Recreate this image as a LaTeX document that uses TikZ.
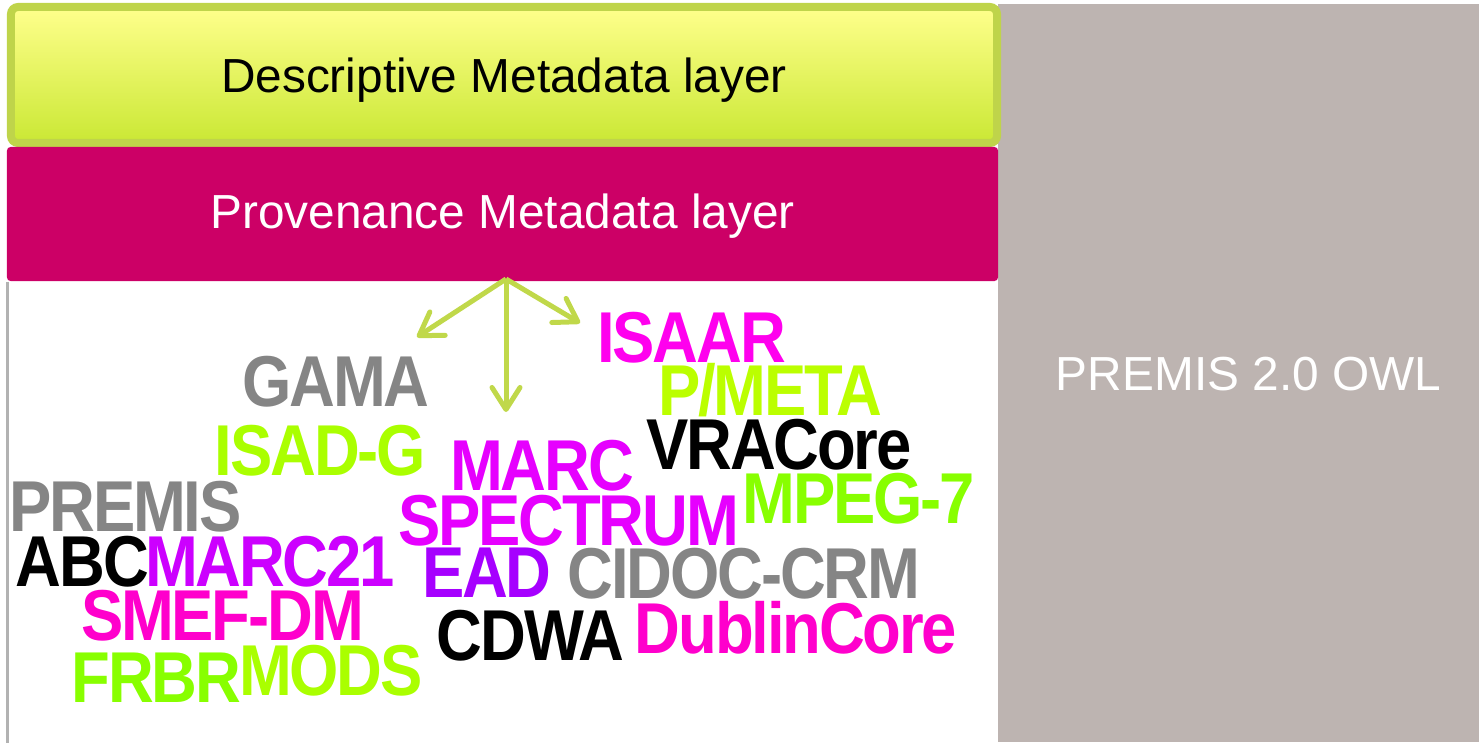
\documentclass[tikz,border=0pt]{standalone}
\usepackage{fontspec}
\setmainfont{Liberation Sans}
\newfontfamily\cloudfont[LetterSpace=-3,FakeStretch=0.88]{Liberation Sans}
\usepackage{xcolor}
\usepackage{tikz}
\usetikzlibrary{arrows.meta}

\definecolor{descborder}{HTML}{BFD44A}
\definecolor{desctop}{HTML}{FFFF8C}
\definecolor{descbot}{HTML}{CAE834}
\definecolor{provfill}{HTML}{CC0066}
\definecolor{owlfill}{HTML}{BDB4B1}
\definecolor{arrowgreen}{HTML}{C0D84A}
\definecolor{wgrey}{HTML}{858585}
\definecolor{wlime}{HTML}{AAFF00}
\definecolor{wgreen}{HTML}{88FF00}
\definecolor{wyellow}{HTML}{BBFF00}
\definecolor{wpink}{HTML}{FF00CC}
\definecolor{wmagenta}{HTML}{FF00EE}
\definecolor{wviolet}{HTML}{E600FF}
\definecolor{wpurple}{HTML}{CC00FF}
\definecolor{wplum}{HTML}{A600FF}

\begin{document}
\begin{tikzpicture}[
  layer/.style={
    rectangle, inner sep=0pt,
    font=\fontsize{13.6pt}{13.6pt}\selectfont,
    text height=0.82em, text depth=0pt
  },
  word/.style={
    inner sep=0pt, anchor=base,
    font=\cloudfont\bfseries\fontsize{20.5pt}{20.5pt}\selectfont
  },
  fan/.style={
    line width=0.05cm, draw=arrowgreen,
    -{Straight Barb[length=2.2mm,width=2.8mm,round]}
  }
]
\useasboundingbox (0,0) rectangle (14.79,-7.42);

% i tre blocchi
\node[layer, fill=owlfill, text=white, text height=1.0em,
  minimum width=4.81cm, minimum height=7.38cm]
  (owl) at (12.385,-3.73) {\hspace*{0.2cm}PREMIS 2.0 OWL};
\node[layer, draw=descborder, line width=0.08cm, rounded corners=2pt,
  top color=desctop, bottom color=descbot, text height=0.98em,
  minimum width=9.86cm, minimum height=1.36cm]
  (desc) at (5.04,-0.75) {Descriptive Metadata layer};
\node[layer, fill=provfill, text=white, rounded corners=1pt,
  minimum width=9.91cm, minimum height=1.34cm]
  (prov) at (5.025,-2.14) {Provenance Metadata layer};
\draw[line width=0.03cm, black!30] (prov.south west) ++(0.015,0) -- ++(0,-4.62);

% frecce verso la nuvola
\coordinate (hub) at (5.06,-2.79);
\coordinate (tipL) at (4.17,-3.37);
\coordinate (tipD) at (5.06,-4.12);
\coordinate (tipR) at (5.80,-3.23);
\draw[fan] (hub) -- (tipL);
\draw[fan] (hub) -- (tipD);
\draw[fan] (hub) -- (tipR);

% nuvola di parole
\node[word, text=wgrey]   (gama)     at (3.36,-4.06)  {GAMA};
\node[word, text=wlime]   (isadg)    at (3.205,-4.75) {ISAD-G};
\node[word, text=wgrey]   (premis)   at (1.255,-5.31) {PREMIS};
\node[word, text=black]   (abc)      at (0.825,-5.86) {ABC};
\node[word, text=wpurple] (marcxxi)  at (2.70,-5.86)  {MARC21};
\node[word, text=wpink]   (smef)     at (2.225,-6.40) {SMEF-DM};
\node[word, text=wgreen]  (frbr)     at (1.565,-7.02) {FRBR};
\node[word, text=wlime]   (mods)     at (3.31,-6.95)  {MODS};
\node[word, text=wmagenta](isaar)    at (6.915,-3.62) {ISAAR};
\node[word, text=wyellow] (pmeta)    at (7.70,-4.15)  {P/META};
\node[word, text=black]   (vra)      at (7.79,-4.69)  {VRACore};
\node[word, text=wviolet] (marc)     at (5.42,-4.90)  {MARC};
\node[word, text=wgreen]  (mpeg)     at (8.585,-5.23) {MPEG-7};
\node[word, text=wviolet] (spectrum) at (5.685,-5.45) {SPECTRUM};
\node[word, text=wplum]   (ead)      at (4.87,-5.97)  {EAD};
\node[word, text=wgrey]   (cidoc)    at (7.44,-5.98)  {CIDOC-CRM};
\node[word, text=black]   (cdwa)     at (5.305,-6.60) {CDWA};
\node[word, text=wpink]   (dublin)   at (7.96,-6.53)  {DublinCore};
\end{tikzpicture}
\end{document}
